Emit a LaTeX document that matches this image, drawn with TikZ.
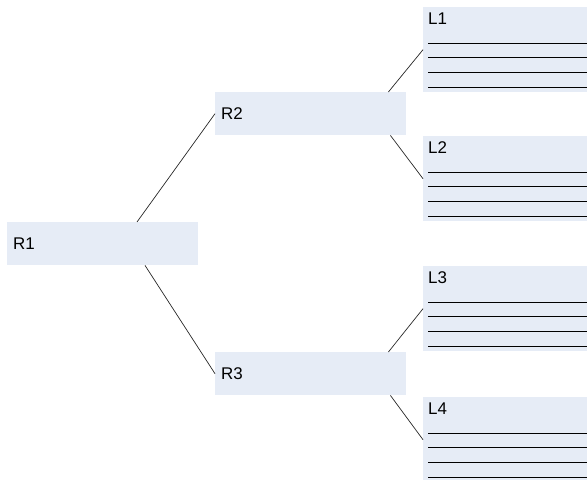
\documentclass[tikz,border=0pt]{standalone}
\usepackage{fontspec}
\setmainfont{Liberation Sans}
\usetikzlibrary{positioning}
\definecolor{boxfill}{HTML}{E6ECF6}
\tikzset{
  rbox/.style={fill=boxfill, draw=none, anchor=north west, minimum width=191bp,
    minimum height=43bp, text width=179bp, inner xsep=6bp, inner ysep=0pt, align=left,
    font=\fontsize{17}{20}\selectfont},
  lbox/.style={fill=boxfill, draw=none, anchor=north west, minimum width=165bp,
    minimum height=85bp, inner sep=0pt},
  ltitle/.style={anchor=base west, inner sep=0pt, font=\fontsize{17}{20}\selectfont},
  rule/.style={black, line width=1.6bp},
  link/.style={black!85, line width=0.7pt}
}
\begin{document}
\begin{tikzpicture}[x=1bp,y=-1bp]
\useasboundingbox (0,0) rectangle (587,480);
% root and middle level
\node[rbox] (R1) at (7,222) {R1};
\node[rbox] (R2) at (215,92) {R2};
\node[rbox] (R3) at (215,352) {R3};
% leaf boxes with their titles and ruled lines
\foreach \n/\y in {1/7, 2/136, 3/266, 4/397} {
  \node[lbox] (L\n) at (423,\y) {};
  \node[ltitle] (L\n t) at ([xshift=5bp,yshift=-17.5bp]L\n.north west) {L\n};
  \foreach \d in {36.5,50.5,65.5,80.5}
    \draw[rule] ([xshift=5bp,yshift=-\d bp]L\n.north west) -- ([yshift=-\d bp]L\n.north east);
}
% connectors
\draw[link] ([xshift=130bp]R1.north west) -- (R2.west);
\draw[link] ([xshift=138bp]R1.south west) -- (R3.west);
\draw[link] ([xshift=-18bp]R2.north east) -- (L1.west);
\draw[link] ([xshift=-16bp]R2.south east) -- (L2.west);
\draw[link] ([xshift=-18bp]R3.north east) -- (L3.west);
\draw[link] ([xshift=-16bp]R3.south east) -- (L4.west);
\end{tikzpicture}
\end{document}
